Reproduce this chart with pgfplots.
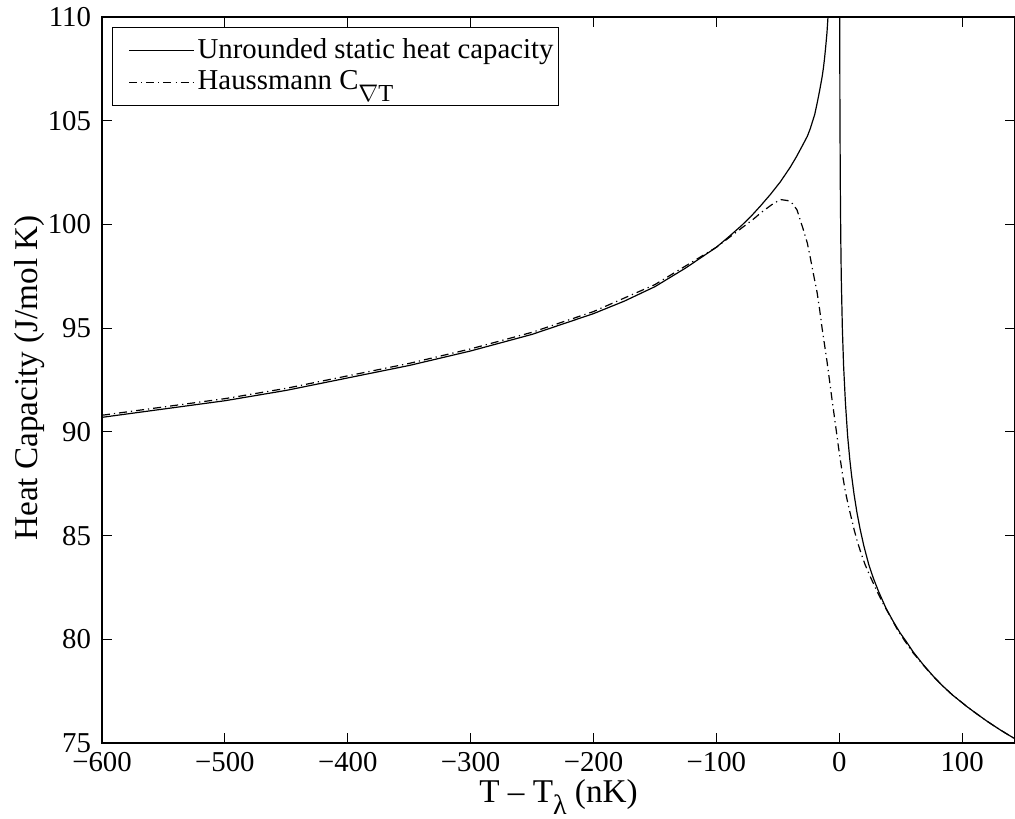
\documentclass[border=0pt]{standalone}
\usepackage{fontspec}
\setmainfont{Liberation Serif}
\usepackage{pgfplots}
\pgfplotsset{compat=1.18}
\pgfplotstableread{
x y
-600 90.7
-550 91.1
-500 91.5
-450 92.0
-400 92.6
-350 93.2
-300 93.9
-250 94.7
-200 95.7
-175 96.3
-150 97.0
-125 97.9
-100 98.9
-90 99.4
-80 99.92
-72 100.38
-64 100.9
-56 101.45
-48 102.05
-40 102.75
-35 103.25
-30 103.8
-26 104.25
-23.6 104.62
-20 105.3
-18 105.85
-16 106.45
-14 107.1
-13 107.5
-12 108.0
-11 108.6
-10 109.25
-9.2 110
-8.5 110.7
}\staticleft
\pgfplotstableread{
x y
0.3 112
0.5 106
0.8 102.1
1.2 99.4
1.6 97.5
2.5 95.0
3.5 93.2
5 91.4
6.8 89.8
8.5 88.7
10 87.9
12 87.0
14.4 86.1
17 85.3
20 84.5
24 83.6
27.7 82.95
32 82.3
38 81.5
44 80.85
49.6 80.3
55 79.85
60 79.4
68 78.8
76.5 78.22
84 77.76
92 77.32
104 76.75
112 76.4
120 76.06
131 75.63
143 75.2
150 74.95
}\staticright
\pgfplotstableread{
x y
-600 90.8
-550 91.2
-500 91.6
-450 92.1
-400 92.7
-350 93.3
-300 94.0
-250 94.8
-200 95.8
-150 97.1
-125 98.0
-100 98.9
-90 99.35
-80 99.8
-70 100.25
-63 100.6
-55 100.95
-48 101.2
-42 101.15
-38 101.0
-34.4 100.7
-29 99.7
-26 99.1
-23.6 98.4
-21 97.6
-18 96.7
-16 95.9
-14 95.0
-12 94.2
-10 93.4
-8 92.5
-6 91.6
-3 90.3
-0.5 89.2
3 87.8
5 87.1
7.6 86.4
10 85.8
12 85.3
15 84.65
18 84.1
21 83.6
25 83.05
30 82.4
35 81.8
41 81.15
47 80.5
53 79.95
60 79.35
68 78.78
76.5 78.2
84 77.76
92 77.32
104 76.75
112 76.4
120 76.06
131 75.63
143 75.2
150 74.95
}\haussmann
\begin{document}
\fontsize{14.4}{17}\selectfont
\begin{tikzpicture}
\begin{axis}[
  scale only axis,
  width=456.5pt, height=363pt,
  xmin=-600, xmax=143, ymin=75, ymax=110,
  xtick={-600,-500,-400,-300,-200,-100,0,100},
  xticklabels={−600,−500,−400,−300,−200,−100,0,100},
  ytick={75,80,85,90,95,100,105,110},
  yticklabels={75,80,85,90,95,100,105,110},
  tick align=inside, tick pos=both, major tick length=5pt,
  axis line style={line width=1pt},
  every tick/.style={black, line width=0.5pt},
  tick label style={font=\fontsize{14.4}{17}\selectfont},
  xticklabel style={yshift=0.5pt},
  yticklabel style={xshift=-0.5pt},
  label style={font=\fontsize{16.6}{19}\selectfont},
  xlabel={T – T\raisebox{-6pt}{\fontsize{14}{16}\selectfont λ} (nK)},
  xlabel style={at={(axis description cs:0.5,-0.0815)}, anchor=base},
  ylabel={Heat Capacity (J/mol K)},
  ylabel style={at={(axis description cs:-0.0789,0.503)}, anchor=center},
  legend cell align=left,
  legend image code/.code={\path (0pt,0pt); \draw[#1] (7pt,0pt) -- (39.5pt,0pt);},
  legend style={at={(axis description cs:0,1)}, anchor=north west,
    xshift=5pt, yshift=-5pt, draw=black, line width=0.5pt,
    font=\fontsize{14.4}{17}\selectfont,
    inner xsep=1pt, inner ysep=4pt, row sep=1pt,
    nodes={inner sep=1.5pt}},
]
\addplot[black, line width=0.6pt] table[x=x,y=y] {\staticleft};
\addlegendentry{Unrounded static heat capacity}
\addplot[black, line width=0.6pt, forget plot] table[x=x,y=y] {\staticright};
\addplot[black, line width=0.6pt, dash pattern={on 4pt off 2pt on 0.6pt off 2pt}] table[x=x,y=y] {\haussmann};
\addlegendentry{Haussmann C\raisebox{-6pt}{\fontsize{12.2}{14}\selectfont$\nabla$T}\rule[-8pt]{0pt}{1pt}}
\end{axis}
\pgfresetboundingbox
\path ([shift={(-51pt,-37.5pt)}]current axis.south west) rectangle ([shift={(0pt,8.5pt)}]current axis.north east);
\end{tikzpicture}
\end{document}
